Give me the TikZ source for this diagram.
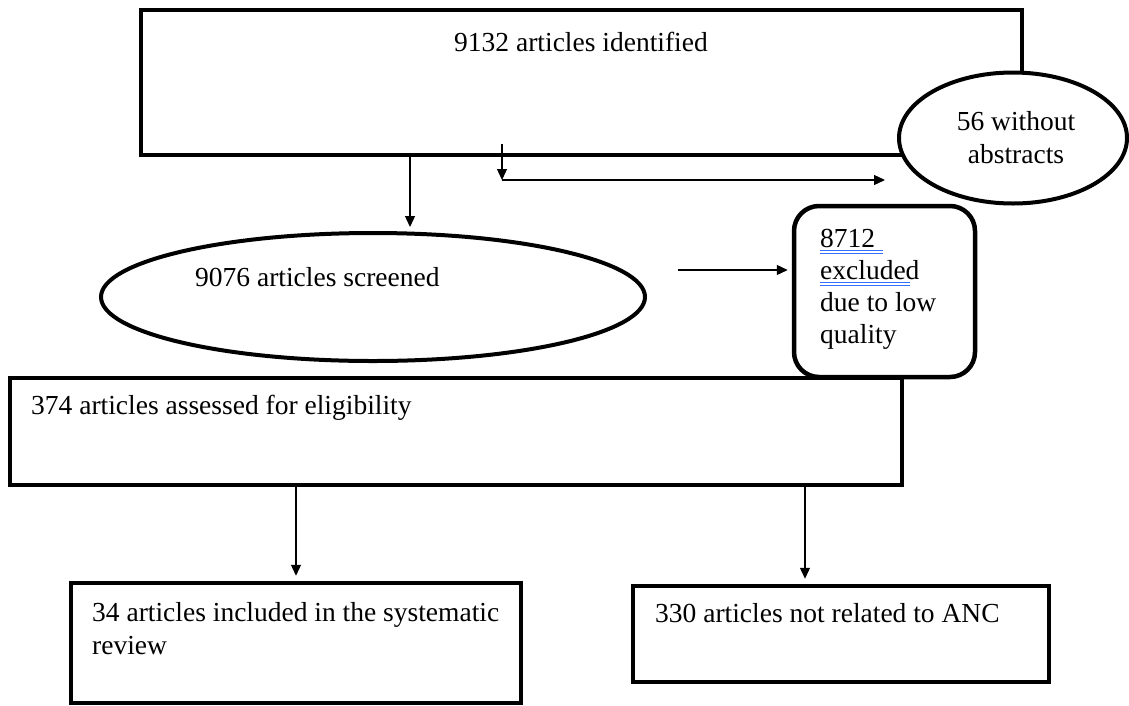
\documentclass[tikz,border=0pt]{standalone}
\usepackage{fontspec}
\setmainfont{Liberation Serif}
\usetikzlibrary{arrows.meta,shapes.geometric,calc}
\begin{document}
\begin{tikzpicture}[x=1pt,y=-1pt,
  every node/.style={font=\fontsize{27.5}{32}\selectfont},
  boxnode/.style={draw,line width=4.5pt,rectangle,inner sep=0pt,fill=white},
  ellnode/.style={draw,line width=4pt,ellipse,inner sep=0pt,fill=white},
  txt/.style={inner sep=0pt,align=left},
  arr/.style={line width=1.3pt,-{Triangle[length=11pt,width=10pt]}},
  ul/.style={line width=0.9pt,draw=blue!70!cyan!80!white}]
\useasboundingbox (0,0) rectangle (1129,705);
% top box
\node[boxnode,minimum width=881pt,minimum height=145pt] (top) at (581.5,82.5) {};
\node[txt] (toptxt) at (581,42) {9132 articles identified};
% without abstracts ellipse
\node[ellnode,minimum width=228pt,minimum height=131pt] (wo) at (1013,138) {};
\node[txt,align=center,font=\fontsize{27.5}{33}\selectfont] (wotxt) at (1016,138) {56 without\\abstracts};
% screened ellipse
\node[ellnode,minimum width=544pt,minimum height=128pt] (scr) at (373,297) {};
\node[txt,anchor=west] (scrtxt) at (195,277) {9076 articles screened};
% assessed box
\node[boxnode,minimum width=892pt,minimum height=107pt] (assess) at (456,431.5) {};
\node[txt,anchor=west] (asstxt) at (31,408) {374 articles assessed for eligibility};
% excluded rounded box
\node[boxnode,rounded corners=25pt,minimum width=181pt,minimum height=171pt] (excl) at (884.5,291.5) {};
\node[txt,anchor=north west,font=\fontsize{27.5}{32}\selectfont] (excltxt) at (820,229) {8712\\excluded\\due to low\\quality};
\draw[ul] (820,250.5) -- (883,250.5) (820,253.5) -- (883,253.5);
\draw[ul] (820,282.5) -- (910,282.5) (820,285.5) -- (910,285.5);
% included box
\node[boxnode,minimum width=450pt,minimum height=120pt] (inc) at (296,643) {};
\node[txt,anchor=west,font=\fontsize{27.5}{33}\selectfont] (inctxt) at (92,628.5) {34 articles included in the systematic\\review};
% not related box
\node[boxnode,minimum width=416pt,minimum height=96pt] (nanc) at (841,634) {};
\node[txt,anchor=west] (nanctxt) at (655,613) {330 articles not related to ANC};
% connectors
\coordinate (a0) at (410,0);
\draw[arr,shorten >=4pt] (top.south -| a0) -- (scr.north -| a0);
\coordinate (b1) at (502,144);
\coordinate (b2) at (502,180);
\coordinate (b3) at (885,180);
\draw[arr] (b1) -- (b2);
\draw[arr] (b2) -- (b3);
\coordinate (s1) at (678,270);
\draw[arr,shorten >=4pt] (s1) -- (s1 -| excl.west);
\draw[arr,shorten >=5pt] (assess.south -| inc.north) -- (inc.north);
\coordinate (c0) at (805,0);
\draw[arr,shorten >=5pt] (assess.south -| c0) -- (nanc.north -| c0);
\end{tikzpicture}
\end{document}
